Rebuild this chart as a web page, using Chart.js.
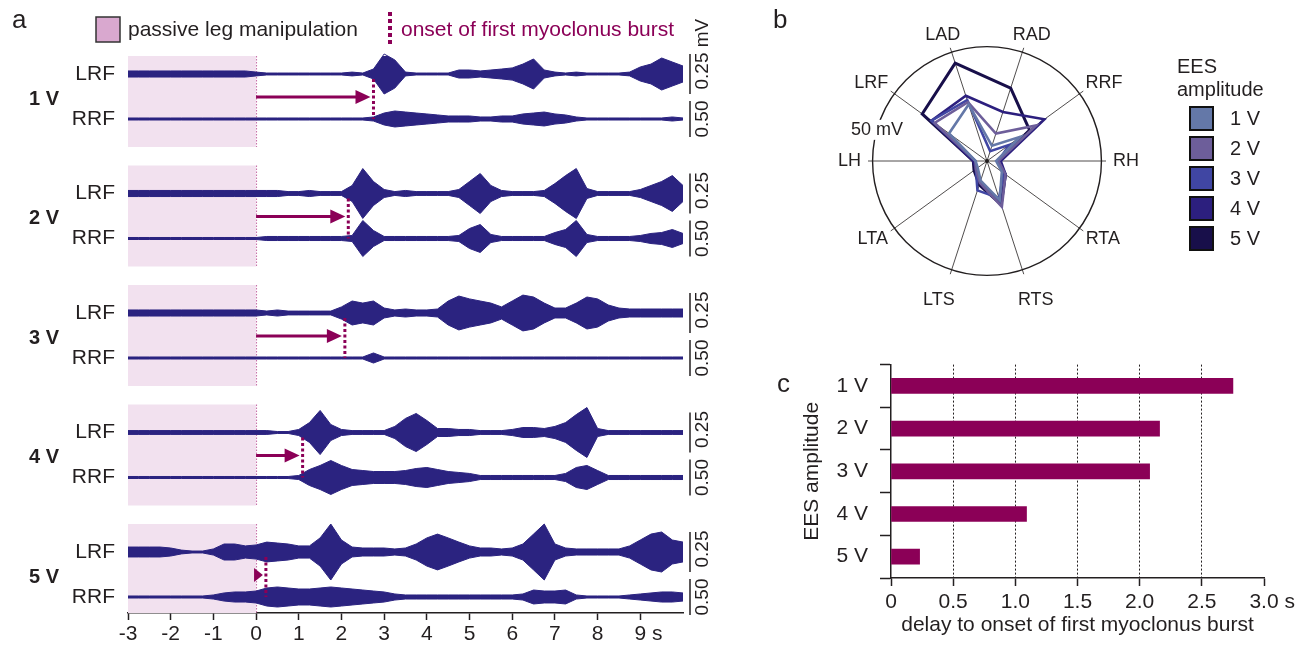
<!DOCTYPE html>
<html lang="en">
<head>
<meta charset="UTF-8">
<title>EES amplitude and myoclonus onset</title>
<script src="https://cdn.jsdelivr.net/npm/chart.js@4.4.1/dist/chart.umd.min.js"></script>
<style>
  body { margin: 0; background: #fff; width: 1303px; height: 648px; overflow: hidden; position: relative;
         font-family: 'Liberation Sans', Arial, sans-serif; color: #231f20; }
  canvas { position: absolute; }
  #emgChart { left: 0; top: 0; }
  #radarChart { left: 780px; top: 0; }
  #delayChart { left: 780px; top: 340px; }
  .tag { position: absolute; font-size: 26px; line-height: 26px; }
</style>
</head>
<body>
<canvas id="emgChart" width="720" height="648"></canvas>
<canvas id="radarChart" width="523" height="330"></canvas>
<canvas id="delayChart" width="523" height="308"></canvas>
<div class="tag" style="left:12px;top:6px">a</div>
<div class="tag" style="left:773px;top:6px">b</div>
<div class="tag" style="left:777px;top:370px">c</div>

<script>
const FONT = "'Liberation Sans', Arial, Helvetica, sans-serif";
Chart.defaults.font.family = FONT;
Chart.defaults.font.size = 21;
Chart.defaults.color = '#231f20';

// ---- panel a: EMG envelopes (half amplitude in µV), one value every 0.25 s ----
const timeSec = [-3, -2.75, -2.5, -2.25, -2, -1.75, -1.5, -1.25, -1, -0.75, -0.5, -0.25, 0,
  0.25, 0.5, 0.75, 1, 1.25, 1.5, 1.75, 2, 2.25, 2.5, 2.75, 3, 3.25, 3.5, 3.75, 4, 4.25, 4.5, 4.75,
  5, 5.25, 5.5, 5.75, 6, 6.25, 6.5, 6.75, 7, 7.25, 7.5, 7.75, 8, 8.25, 8.5, 8.75, 9, 9.25, 9.5, 9.75, 10];
const eesLevels = ['1 V', '2 V', '3 V', '4 V', '5 V'];

const lrf1V = [19,19,19,19,19,19,19,19,19,19,19,19,12, 6,6,6,6,6,6,6,6,12,6,
  31,125,88,12,6,6,6,6,25,25, 19,25,31,38,62,94,25,12,6,12, 6,6,6,6,12,44,62,100,75,50];
const rrf1V = [14,14,14,14,14,14,14,14,14,14,14,14,14, 14,14,14,14,14,14,14,14,14,14,
  28,83,111,97,83,70,56,42,42,42, 28,28,42,42,70,83,97,70,56,28, 14,14,14,14,14,14,14,14,28,14];
const lrf2V = [19,19,19,19,19,19,19,19,19,19,19,19,19, 19,19,12,12,19,12,12,12,50,156,
  75,25,12,19,12,12,12,12,25,75, 125,50,19,12,12,12,19,62,112,156, 31,12,12,12,12,25,50,75,112,50];
const rrf2V = [14,14,14,14,14,14,14,14,14,14,14,14,14, 28,28,28,28,28,28,28,28,42,250,
  111,28,28,28,28,28,28,28,42,139, 194,56,28,28,28,28,28,83,125,250, 56,28,28,28,28,42,70,83,125,70];
const lrf3V = [19,19,19,19,19,19,19,19,19,19,19,19,19, 12,19,12,12,12,12,12,38,75,62,
  75,31,19,25,19,19,25,75,106,88, 75,62,38,75,112,100,62,31,31,62, 100,88,50,31,25,25,25,25,25,25];
const rrf3V = [14,14,14,14,14,14,14,14,14,14,14,14,14, 14,14,14,14,14,14,14,14,14,14,
  70,14,14,14,14,14,14,14,14,14, 14,14,14,14,14,14,14,14,14,14, 14,14,14,14,14,14,14,14,14,14];
const lrf4V = [12,12,12,12,12,12,12,12,12,12,12,12,12, 12,6,6,19,62,138,50,19,12,12,
  12,12,38,88,119,75,25,25,19,19, 12,12,12,19,31,31,25,38,62,112, 156,25,12,12,12,12,12,12,12,12];
const rrf4V = [14,14,14,14,14,14,14,14,14,14,14,14,14, 14,14,14,28,111,167,236,167,111,97,
  83,83,83,97,125,139,111,83,70,56, 28,28,28,28,28,28,28,28,56,139, 167,97,28,28,28,28,28,28,28,28];
const lrf5V = [31,31,31,31,25,12,6,6,19,50,50,38,44, 62,56,50,38,38,88,175,75,31,25,
  25,25,19,25,50,88,112,88,62,38, 25,25,19,25,50,112,175,50,25,19, 19,19,19,19,38,75,112,125,75,62];
const rrf5V = [14,14,14,14,14,14,14,14,28,56,70,70,83, 125,139,125,111,111,125,139,125,111,97,
  83,70,42,28,28,28,28,28,28,28, 28,28,28,28,42,97,83,83,97,28, 14,14,14,14,28,42,56,70,70,56];

const lrfTraces = [lrf1V, lrf2V, lrf3V, lrf4V, lrf5V];
const rrfTraces = [rrf1V, rrf2V, rrf3V, rrf4V, rrf5V];
const scaleBarMv = { LRF: 0.25, RRF: 0.50 };
const manipStart = -3, manipEnd = 0;

// ---- panel c: delay to onset of first myoclonus burst (s) ----
const onsetDelay = [2.75, 2.16, 2.08, 1.09, 0.23];

// ---- panel b: peak EMG per muscle (mV) ----
const muscles = ['LAD', 'RAD', 'RRF', 'RH', 'RTA', 'RTS', 'LTS', 'LTA', 'LH', 'LRF'];
const peak1V = [26, 7, 18, 4, 8, 18, 9, 5, 5, 20.5];
const peak2V = [27, 12.6, 26.5, 5, 10, 21, 10, 6, 5, 28.3];
const peak3V = [28, 4.5, 12, 5, 9, 17, 13.5, 6, 5, 30];
const peak4V = [30, 22.5, 31, 6, 10, 20, 10, 6, 6, 30];
const peak5V = [45, 33.5, 23, 5, 10, 20, 11, 7, 6, 35];
const radarColors = ['#6478a8', '#6d5e9a', '#4046a3', '#2c1f7e', '#180f4a'];
const radarRingMv = 50;

// lane layout of the traces (y units = px below plot top)
const LANE = 119.5, LRF_Y = 18, RRF_DY = 45;
const gain = { LRF: 40 / 250, RRF: 36 / 500 };   // px per µV
const laneBase = (g, m) => LRF_Y + g * LANE + (m === 'RRF' ? RRF_DY : 0);

const TRACE = '#2b2380';
const MAGENTA = '#8b0057';

const emgSets = [];
eesLevels.forEach((lvl, g) => {
  [['LRF', lrfTraces[g]], ['RRF', rrfTraces[g]]].forEach(([m, env]) => {
    const base = laneBase(g, m), k = gain[m];
    const common = { borderColor: TRACE, backgroundColor: TRACE, borderWidth: 1, pointRadius: 0, tension: 0, clip: false };
    emgSets.push({ ...common, data: env.map((a, i) => ({ x: timeSec[i], y: base - a * k })), fill: false });
    emgSets.push({ ...common, data: env.map((a, i) => ({ x: timeSec[i], y: base + a * k })), fill: '-1' });
  });
});

const emgDecor = {
  id: 'emgDecor',
  beforeDatasetsDraw(chart) {
    const { ctx, chartArea: ca, scales: { x, y } } = chart;
    ctx.save();
    eesLevels.forEach((lvl, g) => {
      const top = Math.max(y.getPixelForValue(laneBase(g, 'LRF') - 28), ca.top);
      const bot = Math.min(y.getPixelForValue(laneBase(g, 'RRF') + 28), ca.bottom);
      const x1 = x.getPixelForValue(manipStart), x2 = x.getPixelForValue(manipEnd);
      ctx.fillStyle = '#f2e1ef';
      ctx.fillRect(x1, top, x2 - x1, bot - top);
      ctx.strokeStyle = '#c56aa5';
      ctx.lineWidth = 1;
      ctx.setLineDash([1.5, 1.5]);
      ctx.beginPath(); ctx.moveTo(x2 + 0.5, top); ctx.lineTo(x2 + 0.5, bot); ctx.stroke();
    });
    ctx.restore();
  },
  afterDatasetsDraw(chart) {
    const { ctx, scales: { x, y } } = chart;
    ctx.save();
    eesLevels.forEach((lvl, g) => {
      const xd = x.getPixelForValue(onsetDelay[g]);
      const x0 = x.getPixelForValue(0);
      const yL = y.getPixelForValue(laneBase(g, 'LRF'));
      const yR = y.getPixelForValue(laneBase(g, 'RRF'));
      const ya = y.getPixelForValue(laneBase(g, 'LRF') + 23);
      // onset marker
      ctx.strokeStyle = MAGENTA; ctx.lineWidth = 3; ctx.setLineDash([3, 2.5]);
      ctx.beginPath(); ctx.moveTo(xd, yL + 5); ctx.lineTo(xd, yR); ctx.stroke();
      ctx.setLineDash([]);
      // arrow from stimulation to onset
      const tip = xd - 3;
      const headBase = Math.max(x0 - 2, tip - 15);
      if (headBase > x0) {
        ctx.lineWidth = 3;
        ctx.beginPath(); ctx.moveTo(x0, ya); ctx.lineTo(headBase + 1, ya); ctx.stroke();
      }
      ctx.fillStyle = MAGENTA;
      ctx.beginPath(); ctx.moveTo(tip, ya); ctx.lineTo(headBase, ya - 7); ctx.lineTo(headBase, ya + 7); ctx.closePath(); ctx.fill();
    });
    ctx.restore();
  },
  afterDraw(chart) {
    const { ctx, scales: { x, y } } = chart;
    ctx.save();
    ctx.fillStyle = '#231f20';
    ctx.textBaseline = 'middle';
    eesLevels.forEach((lvl, g) => {
      const yL = y.getPixelForValue(laneBase(g, 'LRF'));
      const yR = y.getPixelForValue(laneBase(g, 'RRF'));
      ctx.font = 'bold 20px ' + FONT; ctx.textAlign = 'left';
      ctx.fillText(lvl, 29, y.getPixelForValue(laneBase(g, 'LRF') + 25));
      ctx.font = '21px ' + FONT; ctx.textAlign = 'right';
      ctx.fillText('LRF', 115, yL);
      ctx.fillText('RRF', 115, yR);
      // scale bars
      ctx.strokeStyle = '#231f20'; ctx.lineWidth = 1.5;
      [['LRF', yL], ['RRF', yR]].forEach(([m, yb]) => {
        const half = scaleBarMv[m] * 1000 * gain[m] / 2;
        ctx.beginPath(); ctx.moveTo(690, yb - half); ctx.lineTo(690, yb + half); ctx.stroke();
        ctx.save();
        ctx.translate(703, yb - (m === 'LRF' ? 3 : 0)); ctx.rotate(-Math.PI / 2);
        ctx.font = '19px ' + FONT; ctx.textAlign = 'center';
        const lab = scaleBarMv[m].toFixed(2);
        ctx.fillText(lab, 0, 0);
        if (g === 0 && m === 'LRF') {
          ctx.textAlign = 'left';
          ctx.fillText(' mV', ctx.measureText(lab).width / 2, 0);
        }
        ctx.restore();
      });
    });
    // legend
    ctx.fillStyle = '#d9a8cf'; ctx.strokeStyle = '#333'; ctx.lineWidth = 1.5;
    ctx.fillRect(96, 17, 24, 25); ctx.strokeRect(96, 17, 24, 25);
    ctx.fillStyle = '#231f20'; ctx.font = '21px ' + FONT; ctx.textAlign = 'left';
    ctx.fillText('passive leg manipulation', 128, 30);
    ctx.strokeStyle = MAGENTA; ctx.lineWidth = 4; ctx.setLineDash([4, 3]);
    ctx.beginPath(); ctx.moveTo(390, 12); ctx.lineTo(390, 44); ctx.stroke();
    ctx.setLineDash([]);
    ctx.fillStyle = MAGENTA;
    ctx.fillText('onset of first myoclonus burst', 401, 30);
    // unit after last tick
    ctx.fillStyle = '#231f20';
    ctx.fillText(' s', x.getPixelForValue(9) + ctx.measureText('9').width / 2, x.top + 7 + 2 + 12.6);
    ctx.restore();
  }
};

new Chart(document.getElementById('emgChart'), {
  type: 'line',
  data: { datasets: emgSets },
  plugins: [emgDecor],
  options: {
    responsive: false, animation: false,
    layout: { padding: { left: 128, right: 37, top: 56, bottom: 0 } },
    plugins: { legend: { display: false }, tooltip: { enabled: false } },
    scales: {
      x: {
        type: 'linear', min: -3, max: 10,
        ticks: { stepSize: 1, padding: 2, maxRotation: 0, autoSkip: false, callback: v => String(v) },
        afterBuildTicks: s => { s.ticks = s.ticks.filter(t => t.value <= 9); },
        afterFit: s => { s.height = 35; },
        grid: { drawOnChartArea: false, drawTicks: true, tickLength: 7, tickColor: '#231f20', tickWidth: 1.5 },
        border: { display: true, color: '#231f20', width: 1.5 }
      },
      y: { display: false, min: 0, max: 557, reverse: true }
    }
  }
});

// ---- panel b: radar ----
const radarDecor = {
  id: 'radarDecor',
  beforeDatasetsDraw(chart) {
    const { ctx } = chart; const r = chart.scales.r;
    const rad = r.getDistanceFromCenterForValue(radarRingMv);
    ctx.save();
    ctx.strokeStyle = '#231f20'; ctx.lineWidth = 1.4;
    ctx.beginPath(); ctx.arc(r.xCenter, r.yCenter, rad, 0, Math.PI * 2); ctx.stroke();
    const a = 285.8 * Math.PI / 180;
    const cx = r.xCenter + rad * Math.sin(a), cy = r.yCenter - rad * Math.cos(a);
    ctx.font = '18px ' + FONT;
    const w = ctx.measureText(radarRingMv + ' mV').width;
    ctx.fillStyle = '#fff'; ctx.fillRect(cx - w / 2 - 2, cy - 10, w + 4, 20);
    ctx.fillStyle = '#231f20'; ctx.textAlign = 'center'; ctx.textBaseline = 'middle';
    ctx.fillText(radarRingMv + ' mV', cx, cy);
    ctx.restore();
  },
  afterDraw(chart) {
    const { ctx } = chart; const r = chart.scales.r;
    ctx.save();
    ctx.fillStyle = '#231f20';
    ctx.beginPath(); ctx.arc(r.xCenter, r.yCenter, 2, 0, Math.PI * 2); ctx.fill();
    ctx.font = '18px ' + FONT; ctx.textAlign = 'center'; ctx.textBaseline = 'middle';
    muscles.forEach((m, i) => {
      const a = r.getIndexAngle(i);
      const sx = Math.sin(a), sy = -Math.cos(a);
      const d = r.drawingArea + 7 + (sy > 0.9 ? 14 : 0);
      const w = ctx.measureText(m).width;
      ctx.fillText(m, r.xCenter + d * sx + w / 2 * sx, r.yCenter + d * sy + 6.5 * sy);
    });
    // legend
    ctx.font = '20px ' + FONT; ctx.textAlign = 'left';
    ctx.fillText('EES', 397, 67);
    ctx.fillText('amplitude', 397, 90);
    chart.data.datasets.forEach((ds, i) => {
      const yc = 118 + i * 30;
      ctx.fillStyle = ds.borderColor; ctx.fillRect(410, yc - 11, 23, 23);
      ctx.strokeStyle = '#111'; ctx.lineWidth = 2; ctx.strokeRect(410, yc - 11, 23, 23);
      ctx.fillStyle = '#231f20'; ctx.fillText(ds.label, 450, yc + 1);
    });
    ctx.restore();
  }
};

const radarSeries = [peak1V, peak2V, peak3V, peak4V, peak5V];
new Chart(document.getElementById('radarChart'), {
  type: 'radar',
  data: {
    labels: muscles,
    datasets: radarSeries.map((vals, i) => ({
      label: eesLevels[i], data: vals, borderColor: radarColors[i], backgroundColor: radarColors[i],
      borderWidth: i === 4 ? 3 : 2.6, pointRadius: 0, fill: false, tension: 0
    }))
  },
  plugins: [radarDecor],
  options: {
    responsive: false, animation: false,
    layout: { padding: { left: 88, right: 197, top: 42, bottom: 50 } },
    plugins: { legend: { display: false }, tooltip: { enabled: false } },
    scales: {
      r: {
        min: 0, max: 52, startAngle: -18,
        ticks: { display: false, stepSize: 50 },
        pointLabels: { display: false },
        grid: { display: false },
        angleLines: { display: true, color: '#231f20', lineWidth: 0.8 }
      }
    }
  }
});

// ---- panel c: bars ----
const delayDecor = {
  id: 'delayDecor',
  afterDraw(chart) {
    const { ctx } = chart; const x = chart.scales.x;
    ctx.save();
    ctx.font = '21px ' + FONT; ctx.fillStyle = '#231f20'; ctx.textBaseline = 'middle'; ctx.textAlign = 'left';
    ctx.fillText(' s', x.getPixelForValue(3) + ctx.measureText('3.0').width / 2, x.top + 8 + 4 + 12.6);
    ctx.restore();
  }
};

new Chart(document.getElementById('delayChart'), {
  type: 'bar',
  data: { labels: eesLevels, datasets: [{ data: onsetDelay, backgroundColor: MAGENTA, barThickness: 15 }] },
  plugins: [delayDecor],
  options: {
    indexAxis: 'y', responsive: false, animation: false,
    layout: { padding: { left: 0, right: 39, top: 15, bottom: 0 } },
    plugins: { legend: { display: false }, tooltip: { enabled: false } },
    scales: {
      x: {
        min: 0, max: 3,
        ticks: { stepSize: 0.5, padding: 4, maxRotation: 0, callback: v => v === 0 ? '0' : v.toFixed(1) },
        grid: { drawOnChartArea: true, color: c => (c.tick && c.tick.value > 0 && c.tick.value < 3) ? '#231f20' : 'rgba(0,0,0,0)',
                lineWidth: 1, tickLength: 8, tickColor: '#231f20', tickWidth: 1.5 },
        border: { display: true, color: '#231f20', width: 1.5, dash: [2, 2] },
        title: { display: true, text: 'delay to onset of first myoclonus burst', padding: { top: 0, bottom: 10 } },
        afterFit: s => { s.height = 70; }
      },
      y: {
        ticks: { padding: 12 },
        grid: { drawOnChartArea: false, tickLength: 11, tickColor: '#231f20', tickWidth: 1.5 },
        border: { display: true, color: '#231f20', width: 1.5 },
        title: { display: true, text: 'EES amplitude', padding: { top: 20, bottom: 0 } },
        afterFit: s => { s.width = 111; }
      }
    }
  }
});
</script>
</body>
</html>
